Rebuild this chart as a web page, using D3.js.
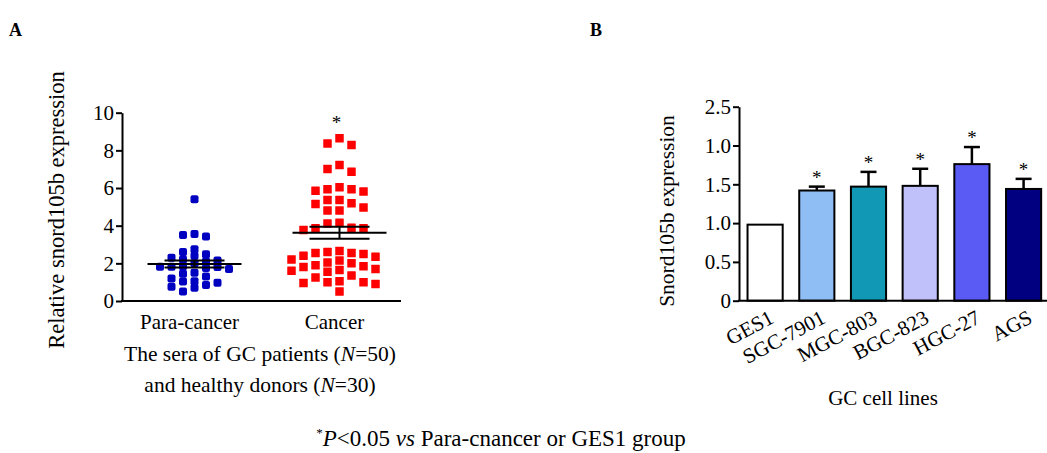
<!DOCTYPE html>
<html>
<head>
<meta charset="utf-8">
<script src="https://cdn.jsdelivr.net/npm/d3@7"></script>
<style>
  body { margin: 0; background: #fff; }
  svg { display: block; font-family: "Liberation Serif", "Times New Roman", serif; }
</style>
</head>
<body>
<svg id="chart" width="1047" height="453"></svg>
<script>
// ---- data: panel A (serum, scatter) ----
const groups = ['Para-cancer', 'Cancer'];
const paraValues = [5.40, 3.56, 3.42, 3.50, 2.75, 2.60, 2.40, 2.30, 2.48, 2.20, 2.15, 2.10, 2.00, 1.75, 1.70,
	1.85, 1.80, 1.82, 1.82, 1.50, 1.45, 1.30, 1.20, 1.05, 1.03, 0.97, 0.85, 0.76, 0.70, 0.50];
const cancerValues = [8.37, 8.28, 8.64, 7.22, 6.87, 7.01, 5.93, 5.81, 5.86, 5.93, 6.04,
	5.36, 5.19, 4.97, 4.80, 4.80, 5.15, 5.36, 4.16, 3.86, 3.77, 3.86, 3.89, 4.12,
	2.65, 2.60, 2.55, 2.55, 2.50, 2.40, 2.35, 2.20, 2.15, 2.05, 2.00, 1.90, 1.85, 1.80,
	1.70, 1.65, 1.60, 1.55, 1.35, 1.25, 1.05, 1.00, 1.00, 0.95, 0.90, 0.50];
const yTicksA = [0, 2, 4, 6, 8, 10];

// ---- data: panel B (cell lines, bars) ----
const cellLines = ['GES1', 'SGC-7901', 'MGC-803', 'BGC-823', 'HGC-27', 'AGS'];
const cellMeans = [0.98, 1.42, 1.47, 1.48, 1.76, 1.44];
const cellErrors = [0, 0.05, 0.19, 0.22, 0.22, 0.13];
const cellSignificant = [false, true, true, true, true, true];
const yTicksB = [0, 0.5, 1.0, 1.5, 2.0, 2.5];
const yTickLabelsB = ['0', '0.5', '1.0', '1.5', '1.0', '2.5'];

// styles
const groupColors = ['#0000c0', '#ff0000'];
const barColors = ['#ffffff', '#8fbef5', '#1098b4', '#c0c0fa', '#5a5af5', '#000080'];
const fontSize = 21;

const svg = d3.select('#chart');

// panel letters
svg.append('text').attr('x', 9).attr('y', 36).attr('font-size', 18).attr('font-weight', 'bold').text('A');
svg.append('text').attr('x', 590).attr('y', 36).attr('font-size', 18).attr('font-weight', 'bold').text('B');

// ================= Panel A =================
const yA = d3.scaleLinear().domain([0, 10]).range([301, 112.7]);
const xA = d3.scalePoint().domain(groups).range([122, 412]).padding(0.5);

const gA = svg.append('g');
const axisA = gA.append('g').attr('transform', 'translate(122,0)')
	.call(d3.axisLeft(yA).tickValues(yTicksA).tickSize(6).tickSizeOuter(0).tickPadding(2));
axisA.select('.domain').attr('stroke-width', 2);
axisA.selectAll('.tick line').attr('stroke-width', 2);
axisA.selectAll('.tick text').attr('font-size', fontSize).attr('font-family', 'Liberation Serif').attr('fill', '#000');

gA.append('line').attr('x1', 121).attr('x2', 401).attr('y1', yA(0)).attr('y2', yA(0))
	.attr('stroke', '#000').attr('stroke-width', 2);

// simple column swarm: place each point in the nearest free column
function swarm(values, ys, step, minGap) {
	const placed = [];
	const order = values.map((v, i) => i).sort((a, b) => values[b] - values[a]);
	const cols = [0, -1, 1, -2, 2, -3, 3, -4, 4];
	const out = new Array(values.length);
	order.forEach(i => {
		const py = ys(values[i]);
		for (const c of cols) {
			const clash = placed.some(p => p.c === c && Math.abs(p.y - py) < minGap);
			if (!clash) { placed.push({ c: c, y: py }); out[i] = c * step; break; }
		}
	});
	return out;
}

const seriesA = [paraValues, cancerValues];
seriesA.forEach((vals, gi) => {
	const cx = xA(groups[gi]);
	const offs = gi === 0 ? swarm(vals, yA, 11.5, 6.5) : swarm(vals, yA, 12, 9);
	const sz = gi === 0 ? 8 : 8.5;
	gA.append('g').selectAll('rect').data(vals).enter().append('rect')
		.attr('x', (d, i) => cx + offs[i] - sz / 2)
		.attr('y', d => yA(d) - sz / 2)
		.attr('width', sz).attr('height', sz)
		.attr('rx', gi === 0 ? 2 : 0.5)
		.attr('fill', groupColors[gi]);

	const mean = d3.mean(vals);
	const sem = d3.deviation(vals) / Math.sqrt(vals.length);
	const lines = gA.append('g').attr('stroke', '#000');
	lines.append('line').attr('x1', cx - 47).attr('x2', cx + 47).attr('y1', yA(mean)).attr('y2', yA(mean)).attr('stroke-width', 2);
	lines.append('line').attr('x1', cx).attr('x2', cx).attr('y1', yA(mean - sem)).attr('y2', yA(mean + sem)).attr('stroke-width', 2);
	[mean - sem, mean + sem].forEach(v => {
		lines.append('line').attr('x1', cx - 30).attr('x2', cx + 30).attr('y1', yA(v)).attr('y2', yA(v)).attr('stroke-width', 2);
	});

	gA.append('text').attr('x', cx - 5).attr('y', 329)
		.attr('text-anchor', 'middle').attr('font-size', fontSize).text(groups[gi]);
});

// significance star over cancer group
gA.append('text').attr('x', xA('Cancer') - 3).attr('y', yA(d3.max(cancerValues) + 0.5))
	.attr('text-anchor', 'middle').attr('font-size', 19).text('*');

const capA = gA.append('text').attr('text-anchor', 'middle').attr('font-size', 21.5);
capA.append('tspan').attr('x', 260).attr('y', 361).text('The sera of GC patients (');
capA.append('tspan').attr('font-style', 'italic').text('N');
capA.append('tspan').text('=50)');
const capA2 = gA.append('text').attr('text-anchor', 'middle').attr('font-size', 21.5);
capA2.append('tspan').attr('x', 260).attr('y', 392).text('and healthy donors (');
capA2.append('tspan').attr('font-style', 'italic').text('N');
capA2.append('tspan').text('=30)');

gA.append('text').attr('transform', 'translate(64,' + 210 + ') rotate(-90)')
	.attr('text-anchor', 'middle').attr('font-size', 22.5).text('Relative snord105b expression');

// ================= Panel B =================
const yB = d3.scaleLinear().domain([0, 2.5]).range([300.7, 106.7]);
const xB = d3.scaleBand().domain(cellLines).range([739, 1049.7]).paddingInner(0.32).paddingOuter(0.165);

const gB = svg.append('g');
const axisB = gB.append('g').attr('transform', 'translate(739,0)')
	.call(d3.axisLeft(yB).tickValues(yTicksB).tickSize(6).tickSizeOuter(0).tickPadding(2)
		.tickFormat((d, i) => yTickLabelsB[i]));
axisB.select('.domain').attr('stroke-width', 2);
axisB.selectAll('.tick line').attr('stroke-width', 2);
axisB.selectAll('.tick text').attr('font-size', fontSize).attr('font-family', 'Liberation Serif').attr('fill', '#000');

const bars = gB.append('g').selectAll('g').data(cellLines).enter().append('g');
bars.append('rect')
	.attr('x', d => xB(d))
	.attr('y', (d, i) => yB(cellMeans[i]))
	.attr('width', xB.bandwidth())
	.attr('height', (d, i) => yB(0) - yB(cellMeans[i]))
	.attr('fill', (d, i) => barColors[i])
	.attr('stroke', '#000').attr('stroke-width', 2);

bars.filter((d, i) => cellErrors[i] > 0).each(function (d) {
	const i = cellLines.indexOf(d);
	const cx = xB(d) + xB.bandwidth() / 2;
	const top = yB(cellMeans[i] + cellErrors[i]);
	const g = d3.select(this);
	g.append('line').attr('x1', cx).attr('x2', cx).attr('y1', yB(cellMeans[i])).attr('y2', top)
		.attr('stroke', '#000').attr('stroke-width', 2.5);
	g.append('line').attr('x1', cx - 8).attr('x2', cx + 8).attr('y1', top).attr('y2', top)
		.attr('stroke', '#000').attr('stroke-width', 2.5);
});

bars.filter((d, i) => cellSignificant[i]).append('text')
	.attr('x', d => xB(d) + xB.bandwidth() / 2)
	.attr('y', d => { const i = cellLines.indexOf(d); return yB(cellMeans[i] + cellErrors[i]) - 3; })
	.attr('text-anchor', 'middle').attr('font-size', 19).text('*');

gB.append('line').attr('x1', 738).attr('x2', 1047).attr('y1', yB(0)).attr('y2', yB(0))
	.attr('stroke', '#000').attr('stroke-width', 2);

gB.append('g').selectAll('text').data(cellLines).enter().append('text')
	.attr('transform', d => 'translate(' + (xB(d) + xB.bandwidth() / 2 + 10) + ',322) rotate(-28)')
	.attr('text-anchor', 'end').attr('font-size', fontSize).text(d => d);

gB.append('text').attr('x', 883).attr('y', 405).attr('text-anchor', 'middle').attr('font-size', fontSize).text('GC cell lines');

gB.append('text').attr('transform', 'translate(674,' + 211 + ') rotate(-90)')
	.attr('text-anchor', 'middle').attr('font-size', 21.5).text('Snord105b expression');

// footnote
const foot = svg.append('text').attr('x', 501).attr('y', 446).attr('text-anchor', 'middle').attr('font-size', 23);
foot.append('tspan').attr('font-size', 13).attr('dy', -9).text('*');
foot.append('tspan').attr('font-style', 'italic').attr('dy', 9).text('P');
foot.append('tspan').text('<0.05 ');
foot.append('tspan').attr('font-style', 'italic').text('vs');
foot.append('tspan').text(' Para-cnancer or GES1 group');
</script>
</body>
</html>
